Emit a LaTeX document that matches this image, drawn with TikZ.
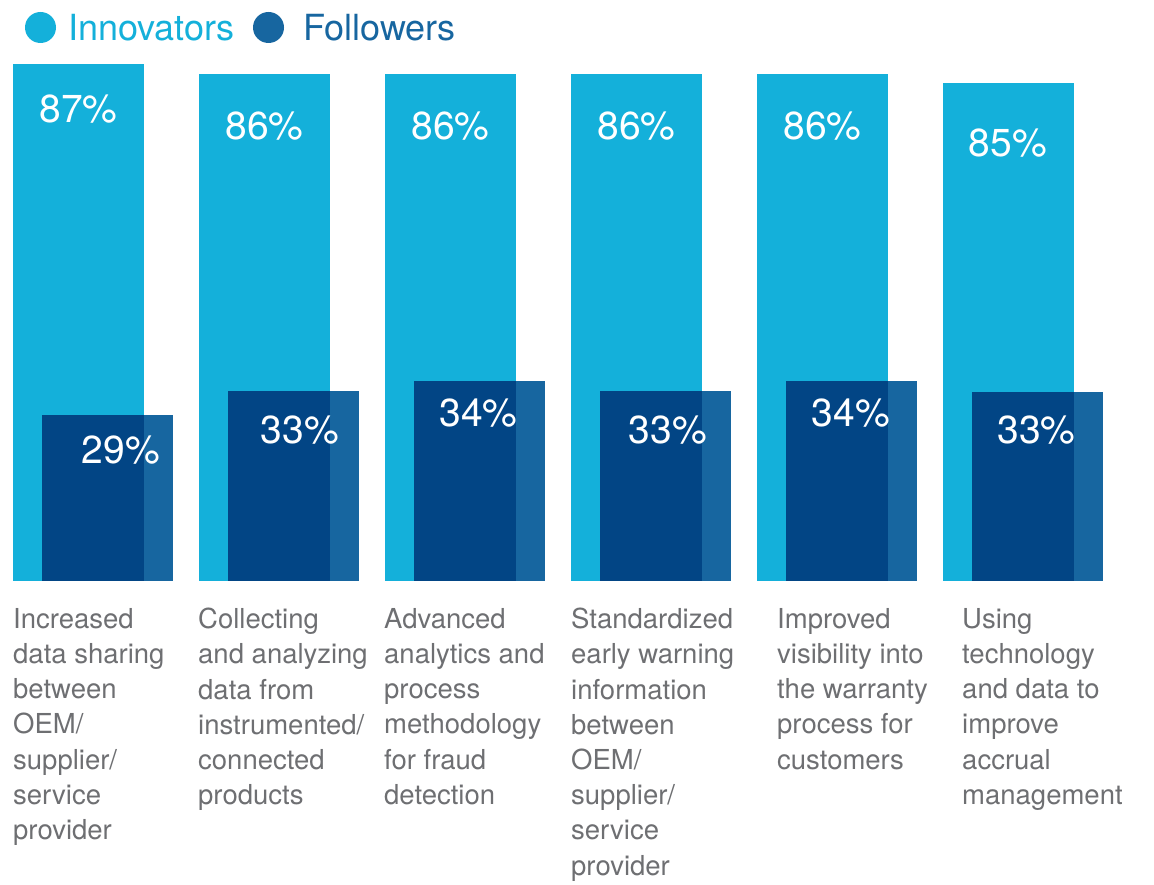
\documentclass[tikz,border=0pt]{standalone}
\usepackage{fontspec}
\setmainfont{TeX Gyre Heros}
\definecolor{innov}{HTML}{14B0DA}
\definecolor{follow}{HTML}{1766A0}
\definecolor{followdark}{HTML}{024585}
\definecolor{labelgray}{HTML}{6E6F72}
\tikzset{
  pct/.style={text=white, inner sep=0pt, font=\fontsize{39}{39}\selectfont},
  cat/.style={text=labelgray, inner sep=0pt, anchor=north west, align=left, font=\fontsize{27.5}{35.2}\selectfont},
  legtext/.style={inner sep=0pt, anchor=base west, font=\fontsize{36}{36}\selectfont}
}
\begin{document}
\begin{tikzpicture}[x=1pt,y=-1pt]
\useasboundingbox (0,0) rectangle (1154,885);
% legend
\fill[innov] (40.5,27.5) circle (15.5);
\node[legtext, text=innov] (legI) at (68,41) {Innovators};
\fill[follow] (268.5,27.5) circle (15.5);
\node[legtext, text=follow] (legF) at (303,41) {Followers};
% bars
\foreach \xi/\ti/\xf/\tf in {13/64/42/415, 199/74/228/391, 385/74/414/381, 571/74/600/391, 757/74/786/381, 943/83/972/392}{
  \fill[innov] (\xi,\ti) rectangle ++(131,581-\ti);
  \fill[follow] (\xf,\tf) rectangle ++(131,581-\tf);
  \fill[followdark] (\xf,\tf) rectangle (\xi+131,581);
}
% innovator values
\node[pct] (i1) at (78.5,109) {87\%};
\node[pct] (i2) at (264.5,126) {86\%};
\node[pct] (i3) at (450.5,126) {86\%};
\node[pct] (i4) at (636.5,126) {86\%};
\node[pct] (i5) at (822.5,126) {86\%};
\node[pct] (i6) at (1008,143) {85\%};
% follower values
\node[pct] (f1) at (121,450) {29\%};
\node[pct] (f2) at (300,430.5) {33\%};
\node[pct] (f3) at (478.5,413) {34\%};
\node[pct] (f4) at (668,430) {33\%};
\node[pct] (f5) at (851,413) {34\%};
\node[pct] (f6) at (1036.5,430) {33\%};
% category labels
\node[cat] (c1) at (13,608) {Increased\\data sharing\\between\\OEM/\\supplier/\\service\\provider};
\node[cat] (c2) at (198,608) {Collecting\\and analyzing\\data from\\instrumented/\\connected\\products};
\node[cat] (c3) at (384,608) {Advanced\\analytics and\\process\\methodology\\for fraud\\detection};
\node[cat] (c4) at (571,608) {Standardized\\early warning\\information\\between\\OEM/\\supplier/\\service\\provider};
\node[cat] (c5) at (777,608) {Improved\\visibility into\\the warranty\\process for\\customers};
\node[cat] (c6) at (962,608) {Using\\technology\\and data to\\improve\\accrual\\management};
\end{tikzpicture}
\end{document}
